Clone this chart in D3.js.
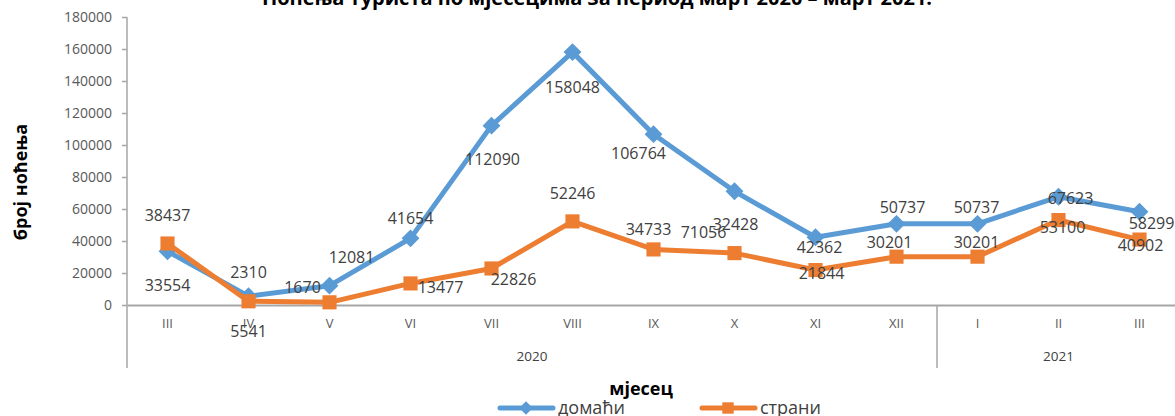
<!DOCTYPE html>
<html>
<head>
<meta charset="utf-8">
<script src="https://cdn.jsdelivr.net/npm/d3@7/dist/d3.min.js"></script>
<style>
html,body{margin:0;padding:0;background:#fff;overflow:hidden;}
svg{display:block;font-family:"Open Sans",sans-serif;}
</style>
</head>
<body>
<svg id="c" width="1175" height="416"></svg>
<script>
const months = ["III","IV","V","VI","VII","VIII","IX","X","XI","XII","I","II","III"];
const years = [{label:"2020", from:0, to:9},{label:"2021", from:10, to:12}];
const domaci = [33554,5541,12081,41654,112090,158048,106764,71056,42362,50737,50737,67623,58299];
const strani = [38437,2310,1670,13477,22826,52246,34733,32428,21844,30201,30201,53100,40902];
const yTicks = [0,20000,40000,60000,80000,100000,120000,140000,160000,180000];
const seriesNames = ["домаћи","страни"];
const titleText = "Ноћења туриста по мјесецима за период март 2020 – март 2021.";
const yTitle = "број ноћења";
const xTitle = "мјесец";

// label offsets (layout, relative to each marker)
const domaciLabelOff = [[0,34],[0,35],[22,-28],[0,-20],[1,34],[0,35],[-15,19],[-31,41],[4,10],[6,-16],[-1,-16],[12,2],[12,12]];
const straniLabelOff = [[0,-28],[0,-29],[-27,-15],[30,4],[22,11],[0,-28],[-5,-20],[1,-29],[6,3],[-7,-14],[-1,-14],[4,7],[1,6]];

const svg = d3.select("#c");
const pLeft = 127, pRight = 127 + 81*13, pTop = 17, pBottom = 305;
const x = d3.scaleBand().domain(d3.range(months.length)).range([pLeft,pRight]);
const y = d3.scaleLinear().domain([0,180000]).range([pBottom,pTop]);
const cx = i => x(i) + x.bandwidth()/2;
const axisCol = "#a6a6a6";

// title (cut off at top as in reference)
svg.append("text").attr("x",597).attr("y",5).attr("text-anchor","middle")
  .attr("font-size",20).attr("font-weight","bold").attr("fill","#000").text(titleText);

// y axis
const yAxis = svg.append("g").attr("transform",`translate(${pLeft},0)`)
  .call(d3.axisLeft(y).tickValues(yTicks).tickSize(5).tickPadding(10).tickFormat(d3.format("d")));
yAxis.select(".domain").remove();
yAxis.selectAll(".tick line").attr("stroke",axisCol).attr("stroke-width",1.5);
yAxis.selectAll(".tick text").attr("font-size",14).attr("fill","#595959").attr("font-family","Open Sans");
svg.append("line").attr("x1",pLeft).attr("x2",pLeft).attr("y1",pTop).attr("y2",368)
  .attr("stroke",axisCol).attr("stroke-width",1.5);

// x axis
const xAxis = svg.append("g").attr("transform",`translate(0,${pBottom})`)
  .call(d3.axisBottom(x).tickSize(0).tickPadding(14).tickFormat(i => months[i]));
xAxis.select(".domain").attr("stroke",axisCol).attr("stroke-width",2);
xAxis.selectAll(".tick text").attr("font-size",13).attr("fill","#595959").attr("font-family","Open Sans");

// year separators and labels
years.forEach((yr,k) => {
  if (k>0) {
    const sx = x(yr.from);
    svg.append("line").attr("x1",sx).attr("x2",sx).attr("y1",pBottom).attr("y2",368)
      .attr("stroke",axisCol).attr("stroke-width",1.5);
  }
  svg.append("text").attr("x",(cx(yr.from)+cx(yr.to))/2).attr("y",361)
    .attr("text-anchor","middle").attr("font-size",13.5).attr("fill","#404040").text(yr.label);
});

// axis titles
svg.append("text").attr("transform","translate(27,182) rotate(-90)").attr("text-anchor","middle")
  .attr("font-size",18).attr("font-weight","bold").attr("fill","#000").text(yTitle);
svg.append("text").attr("x",641).attr("y",395).attr("text-anchor","middle")
  .attr("font-size",18).attr("font-weight","bold").attr("fill","#000").text(xTitle);

const line = d3.line().x((d,i)=>cx(i)).y(d=>y(d));
const blue = "#5b9bd5", orange = "#ed7d31";

function drawSeries(vals, col, rot, size) {
  svg.append("path").datum(vals).attr("d",line).attr("fill","none")
    .attr("stroke",col).attr("stroke-width",5).attr("stroke-linejoin","round");
  svg.append("g").selectAll("path").data(vals).join("path")
    .attr("transform",(d,i)=>`translate(${cx(i)},${y(d)}) rotate(${rot})`)
    .attr("d",d3.symbol().type(d3.symbolSquare).size(size)).attr("fill",col);
}
drawSeries(domaci, blue, 45, 160);
drawSeries(strani, orange, 0, 200);

function drawLabels(vals, off) {
  svg.append("g").selectAll("text").data(vals).join("text")
    .attr("x",(d,i)=>cx(i)+off[i][0]).attr("y",(d,i)=>y(d)+off[i][1])
    .attr("dy","0.35em").attr("text-anchor","middle").attr("font-size",16)
    .attr("fill","#404040").text(d=>d);
}
drawLabels(domaci, domaciLabelOff);
drawLabels(strani, straniLabelOff);

// legend
const leg = [{name:seriesNames[0],col:blue,rot:45,size:90,x0:500},
             {name:seriesNames[1],col:orange,rot:0,size:130,x0:702}];
leg.forEach(l => {
  svg.append("line").attr("x1",l.x0).attr("x2",l.x0+53).attr("y1",408).attr("y2",408)
    .attr("stroke",l.col).attr("stroke-width",5).attr("stroke-linecap","round");
  svg.append("path").attr("transform",`translate(${l.x0+26},408) rotate(${l.rot})`)
    .attr("d",d3.symbol().type(d3.symbolSquare).size(l.size)).attr("fill",l.col);
  svg.append("text").attr("x",l.x0+58).attr("y",408).attr("dy","0.35em")
    .attr("font-size",18).attr("fill","#404040").text(l.name);
});
</script>
</body>
</html>
